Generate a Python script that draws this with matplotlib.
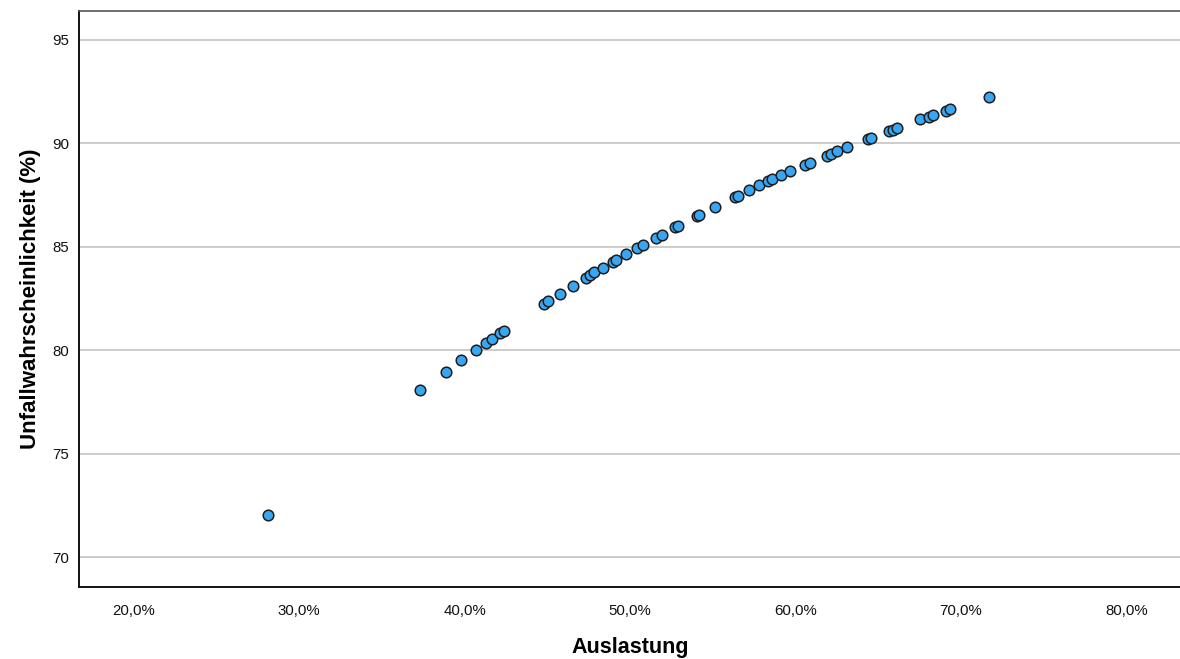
import matplotlib.pyplot as plt
from matplotlib.ticker import FuncFormatter

plt.rcParams['font.family'] = ['Liberation Sans', 'DejaVu Sans']

# Auslastung (%) und Unfallwahrscheinlichkeit (%)
auslastung = [28.10, 37.32, 38.87, 39.80, 40.66, 41.31, 41.63, 42.16, 42.37,
              44.77, 45.05, 45.76, 46.53, 47.31, 47.55, 47.84, 48.34, 48.94,
              49.12, 49.73, 50.41, 50.76, 51.54, 51.92, 52.71, 52.87, 54.04,
              54.15, 55.11, 56.37, 56.51, 57.18, 57.80, 58.34, 58.60, 59.15,
              59.67, 60.58, 60.90, 61.93, 62.13, 62.51, 63.12, 64.41, 64.58,
              65.64, 65.90, 66.16, 67.55, 68.06, 68.31, 69.10, 69.37, 71.68]
unfall = [72.02, 78.06, 78.97, 79.54, 80.02, 80.37, 80.56, 80.84, 80.95,
          82.22, 82.38, 82.72, 83.12, 83.49, 83.63, 83.76, 83.97, 84.26,
          84.35, 84.63, 84.92, 85.09, 85.43, 85.59, 85.93, 85.99, 86.49,
          86.53, 86.92, 87.40, 87.47, 87.74, 87.97, 88.16, 88.26, 88.45,
          88.66, 88.95, 89.06, 89.38, 89.46, 89.62, 89.81, 90.20, 90.27,
          90.57, 90.63, 90.75, 91.15, 91.28, 91.37, 91.57, 91.64, 92.25]

x_ticks = [20, 30, 40, 50, 60, 70, 80]
y_ticks = [70, 75, 80, 85, 90, 95]

fig = plt.figure(figsize=(11.8, 6.59), dpi=100)
ax = fig.add_axes([0.0669, 0.1093, 0.9341, 0.874])

ax.scatter(auslastung, unfall, s=58, color='#38a6f2', edgecolors='#1e1e1e',
           linewidths=1.1, zorder=3)

ax.set_xlim(16.68, 83.32)
ax.set_ylim(68.56, 96.39)
ax.set_xticks(x_ticks)
ax.set_yticks(y_ticks)
ax.xaxis.set_major_formatter(FuncFormatter(lambda v, p: f"{v:.1f}%".replace('.', ',')))
ax.tick_params(axis='both', length=0, labelsize=10.8, colors='#111111')
ax.tick_params(axis='x', pad=12)
ax.tick_params(axis='y', pad=7)

ax.grid(axis='y', color='#c8c8c8', linewidth=1.3, zorder=0)
ax.set_axisbelow(True)

for side in ['left', 'bottom']:
    ax.spines[side].set_color('#111111')
    ax.spines[side].set_linewidth(1.4)
ax.spines['top'].set_color('#555555')
ax.spines['top'].set_linewidth(1.2)
ax.spines['right'].set_visible(False)

ax.set_xlabel('Auslastung', fontsize=15.5, fontweight='bold', labelpad=14)
ax.set_ylabel('Unfallwahrscheinlichkeit (%)', fontsize=16, fontweight='bold', labelpad=8)

fig.savefig('out.png', dpi=100)
